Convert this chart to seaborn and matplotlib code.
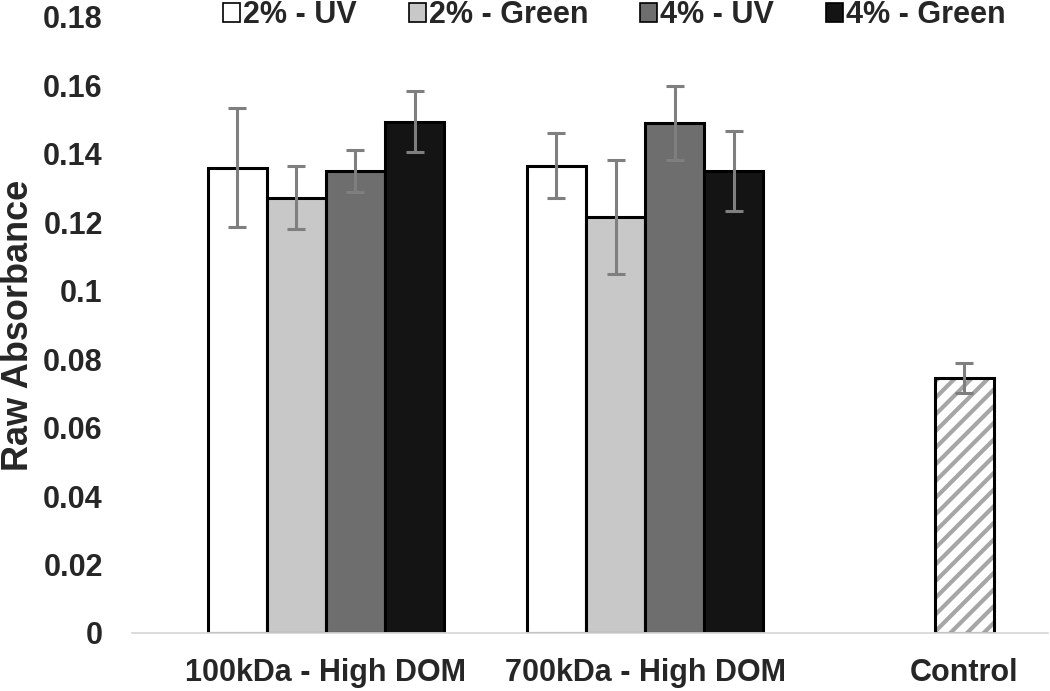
import numpy as np
import pandas as pd
import seaborn as sns
import matplotlib
matplotlib.use("Agg")
import matplotlib.pyplot as plt
from matplotlib.patches import Patch

# dati
categories = ["100kDa - High DOM", "700kDa - High DOM", "Control"]
series = ["2% - UV", "2% - Green", "4% - UV", "4% - Green"]
uv_2 = [0.1360, 0.1366]
green_2 = [0.1272, 0.1216]
uv_4 = [0.1351, 0.1491]
green_4 = [0.1494, 0.1351]
uv_2_err = [0.0175, 0.0095]
green_2_err = [0.0092, 0.0167]
uv_4_err = [0.0061, 0.0108]
green_4_err = [0.0089, 0.0117]
control_value = [0.0746]
control_err = [0.0044]
y_ticks = [0, 0.02, 0.04, 0.06, 0.08, 0.1, 0.12, 0.14, 0.16, 0.18]

colors = ["#ffffff", "#c8c8c8", "#6e6e6e", "#141414"]

values = [uv_2, green_2, uv_4, green_4]
errors = [uv_2_err, green_2_err, uv_4_err, green_4_err]
df = pd.DataFrame({
    "cat": [c for s in series for c in categories[:2]],
    "serie": [s for s in series for c in categories[:2]],
    "val": [v for vals in values for v in vals],
})

sns.set_style("white")
plt.rcParams["font.family"] = ["Liberation Sans", "DejaVu Sans"]
plt.rcParams["font.weight"] = "bold"
plt.rcParams["hatch.linewidth"] = 3.0

fig = plt.figure(figsize=(10.5, 6.91), dpi=100)
ax = fig.add_axes([132 / 1050, 58 / 691, 916 / 1050, 616 / 691])

sns.barplot(data=df, x="cat", y="val", hue="serie", order=categories,
            hue_order=series, palette=dict(zip(series, colors)),
            saturation=1, width=0.74, edgecolor="black", linewidth=2.2,
            errorbar=None, legend=False, ax=ax)

# barre di errore sopra le barre
err_kw = dict(fmt="none", ecolor="#7f7f7f", elinewidth=2.2, capsize=6.5,
              capthick=2.2, zorder=5)
for cont, errs in zip(ax.containers, errors):
    xs = [b.get_x() + b.get_width() / 2 for b in cont]
    ys = [b.get_height() for b in cont]
    ax.errorbar(xs, ys, yerr=errs[:len(xs)], **err_kw)

# controllo: tratteggio grigio + bordo nero
sns.barplot(x=["Control"], y=control_value, order=categories, width=0.185,
            color="white", saturation=1, edgecolor="#a6a6a6", linewidth=0,
            hatch="//", errorbar=None, ax=ax)
sns.barplot(x=["Control"], y=control_value, order=categories, width=0.185,
            fill=False, color="black", linewidth=2.2, errorbar=None, ax=ax)
cb = ax.containers[-1][0]
ax.errorbar([cb.get_x() + cb.get_width() / 2], [cb.get_height()],
            yerr=control_err, **err_kw)

ax.set_ylim(0, 0.18)
ax.set_xlim(-0.608, 2.263)
ax.set_yticks(y_ticks)
ax.set_yticklabels([f"{v:g}" for v in y_ticks])
ax.tick_params(axis="y", length=0, pad=21, labelsize=22)
ax.tick_params(axis="x", length=0, pad=18, labelsize=22)
for lab in ax.get_xticklabels() + ax.get_yticklabels():
    lab.set_fontweight("bold")

ax.set_xlabel("")
ax.set_ylabel("Raw Absorbance", fontsize=26, fontweight="bold")
ax.yaxis.set_label_coords(-0.105, 0.5)

sns.despine(ax=ax, left=True)
ax.spines["bottom"].set_color("#d9d9d9")
ax.spines["bottom"].set_linewidth(1.3)

handles = [Patch(facecolor=c, edgecolor="black", linewidth=1.2) for c in colors]
fig.legend(handles, series, loc="center", bbox_to_anchor=(0.585, 0.978),
           ncol=4, frameon=False, fontsize=22, handlelength=0.55,
           handleheight=0.55, handletextpad=0.1, columnspacing=1.7,
           borderaxespad=0)

fig.savefig("out.png", dpi=100)
